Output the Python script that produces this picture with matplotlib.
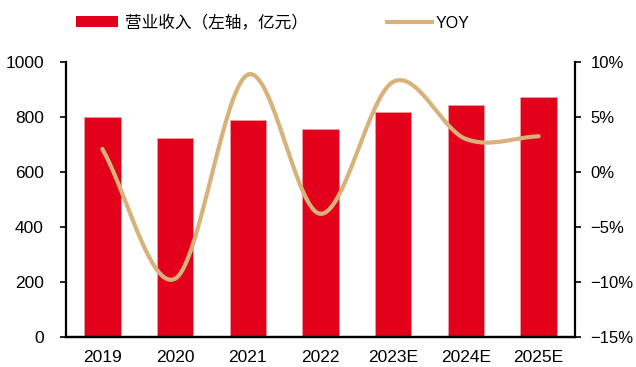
import numpy as np
import matplotlib
matplotlib.use('Agg')
import matplotlib.pyplot as plt
from matplotlib.patches import Patch
from matplotlib.lines import Line2D

latin = ['Liberation Sans', 'Noto Sans CJK SC', 'DejaVu Sans']
plt.rcParams['font.family'] = latin

years = ['2019', '2020', '2021', '2022', '2023E', '2024E', '2025E']
revenue = [800, 723, 788, 757, 818, 845, 872]
yoy = [2.1, -9.7, 8.85, -3.8, 8.2, 3.0, 3.25]

bar_color = '#E2001A'
line_color = '#D8B27A'


def catmull_rom(xs, ys, n=40):
    # smooth line through the points, like excel's smoothed line
    xs = np.asarray(xs, float)
    ys = np.asarray(ys, float)
    px = np.concatenate([[2 * xs[0] - xs[1]], xs, [2 * xs[-1] - xs[-2]]])
    py = np.concatenate([[2 * ys[0] - ys[1]], ys, [2 * ys[-1] - ys[-2]]])
    outx, outy = [], []
    for i in range(1, len(px) - 2):
        t = np.linspace(0, 1, n)
        for p, out in ((px, outx), (py, outy)):
            p0, p1, p2, p3 = p[i - 1], p[i], p[i + 1], p[i + 2]
            out.extend(0.5 * (2 * p1 + (-p0 + p2) * t
                              + (2 * p0 - 5 * p1 + 4 * p2 - p3) * t ** 2
                              + (-p0 + 3 * p1 - 3 * p2 + p3) * t ** 3))
    return np.array(outx), np.array(outy)


fig = plt.figure(figsize=(6.36, 3.67), dpi=100)
ax = fig.add_axes([0.1038, 0.0817, 0.8003, 0.7493])
x = np.arange(len(years))
ax.bar(x, revenue, width=0.5, color=bar_color, edgecolor='#F29AA0', linewidth=0.6, zorder=2)
ax.set_xlim(-0.5, len(years) - 0.5)
ax.set_ylim(0, 1000)
ax.set_yticks(range(0, 1001, 200))
ax.set_xticks(x)
ax.set_xticklabels(years)

ax2 = ax.twinx()
sx, sy = catmull_rom(x, yoy)
ax2.plot(sx, sy, color=line_color, linewidth=3, solid_capstyle='round', zorder=3)
ax2.set_ylim(-15, 10)
ax2.set_yticks(range(-15, 11, 5))
ax2.set_yticklabels([f'{v}%'.replace('-', '\u2212') for v in range(-15, 11, 5)])

for a in (ax, ax2):
    a.spines['top'].set_visible(False)
    for s in a.spines.values():
        s.set_linewidth(1.6)
    a.tick_params(axis='x', labelsize=12.5, length=0, pad=9)
ax.tick_params(axis='y', labelsize=12.5, width=1.2, length=4, direction='out', pad=12)
ax2.tick_params(axis='y', labelsize=12, width=1.2, length=4, direction='out', pad=7)
ax.spines['right'].set_visible(False)
ax2.spines['left'].set_visible(False)

leg1 = fig.legend([Patch(facecolor=bar_color, edgecolor='none')], ['营业收入（左轴，亿元）'],
                  loc='center left', bbox_to_anchor=(76 / 636, 1 - 23 / 367),
                  frameon=False, borderpad=0, borderaxespad=0,
                  handlelength=2.5, handleheight=0.57, handletextpad=0.42,
                  prop={'family': ['Noto Sans CJK SC', 'DejaVu Sans'], 'size': 12})
leg2 = fig.legend([Line2D([0], [0], color=line_color, linewidth=3)], ['YOY'],
                  loc='center left', bbox_to_anchor=(387 / 636, 1 - 23 / 367),
                  frameon=False, borderpad=0, borderaxespad=0,
                  handlelength=2.8, handletextpad=0.25,
                  prop={'family': latin, 'size': 11.5})

fig.savefig('out.png', dpi=100)
